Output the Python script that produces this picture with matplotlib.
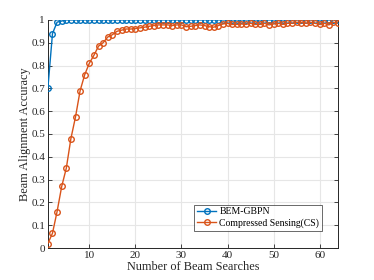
import matplotlib
matplotlib.use("Agg")
import matplotlib.pyplot as plt
import numpy as np

searches = list(range(1, 65))
bem_gbpn = [0.70, 0.94, 0.99, 0.995] + [1.0] * 60
compressed_sensing = [
    0.02, 0.065, 0.16, 0.27, 0.35, 0.48, 0.575, 0.69, 0.76, 0.81,
    0.845, 0.885, 0.90, 0.925, 0.935, 0.95, 0.955, 0.96, 0.96, 0.962,
    0.965, 0.968, 0.972, 0.975, 0.978, 0.978, 0.978, 0.975, 0.978, 0.978,
    0.97, 0.972, 0.975, 0.978, 0.975, 0.97, 0.968, 0.975, 0.982, 0.985,
    0.98, 0.98, 0.982, 0.98, 0.985, 0.98, 0.98, 0.985, 0.978, 0.982,
    0.985, 0.98, 0.985, 0.985, 0.99, 0.988, 0.985, 0.99, 0.985, 0.98,
    0.985, 0.978, 0.99, 0.985,
]
labels = ["BEM-GBPN", "Compressed Sensing(CS)"]
xticks = [10, 20, 30, 40, 50, 60]
yticks = [0, 0.1, 0.2, 0.3, 0.4, 0.5, 0.6, 0.7, 0.8, 0.9, 1.0]
yticklabels = ["0", "0.1", "0.2", "0.3", "0.4", "0.5", "0.6", "0.7", "0.8", "0.9", "1"]

plt.rcParams['font.family'] = ['Liberation Serif', 'DejaVu Serif']
plt.rcParams['mathtext.fontset'] = 'stix'

fig = plt.figure(figsize=(3.74, 2.80), dpi=100)
ax = fig.add_axes([0.128, 0.114, 0.776, 0.815])

ax.plot(searches, bem_gbpn, '-o', color='#0072BD', lw=1.0, ms=4.0,
        mfc='none', mew=1.0, label=labels[0], zorder=3)
ax.plot(searches, compressed_sensing, '-o', color='#D95319', lw=1.0, ms=4.0,
        mfc='none', mew=1.0, label=labels[1], zorder=3)

ax.set_xlim(1, 64)
ax.set_ylim(0, 1)
ax.set_xticks(xticks)
ax.set_yticks(yticks)
ax.set_yticklabels(yticklabels)
ax.grid(True, color='#e6e6e6', lw=0.8)
ax.set_axisbelow(True)
ax.tick_params(direction='in', top=False, right=True, labelsize=8,
               colors='#262626', length=3, width=0.6, pad=2)
for s in ax.spines.values():
    s.set_color('#262626')
    s.set_linewidth(0.7)
ax.spines['top'].set_visible(False)

ax.set_xlabel("Number of Beam Searches", fontsize=8.8, color='#262626', labelpad=1)
ax.set_ylabel("Beam Alignment Accuracy", fontsize=8.8, color='#262626', labelpad=0)

leg = ax.legend(loc='lower right', bbox_to_anchor=(0.945, 0.075), fontsize=7,
                frameon=True, fancybox=False, edgecolor='#262626',
                handlelength=2.0, handletextpad=0.3, borderpad=0.3,
                labelspacing=0.2, borderaxespad=0)
leg.get_frame().set_linewidth(0.6)

fig.savefig("out.png", dpi=100)
